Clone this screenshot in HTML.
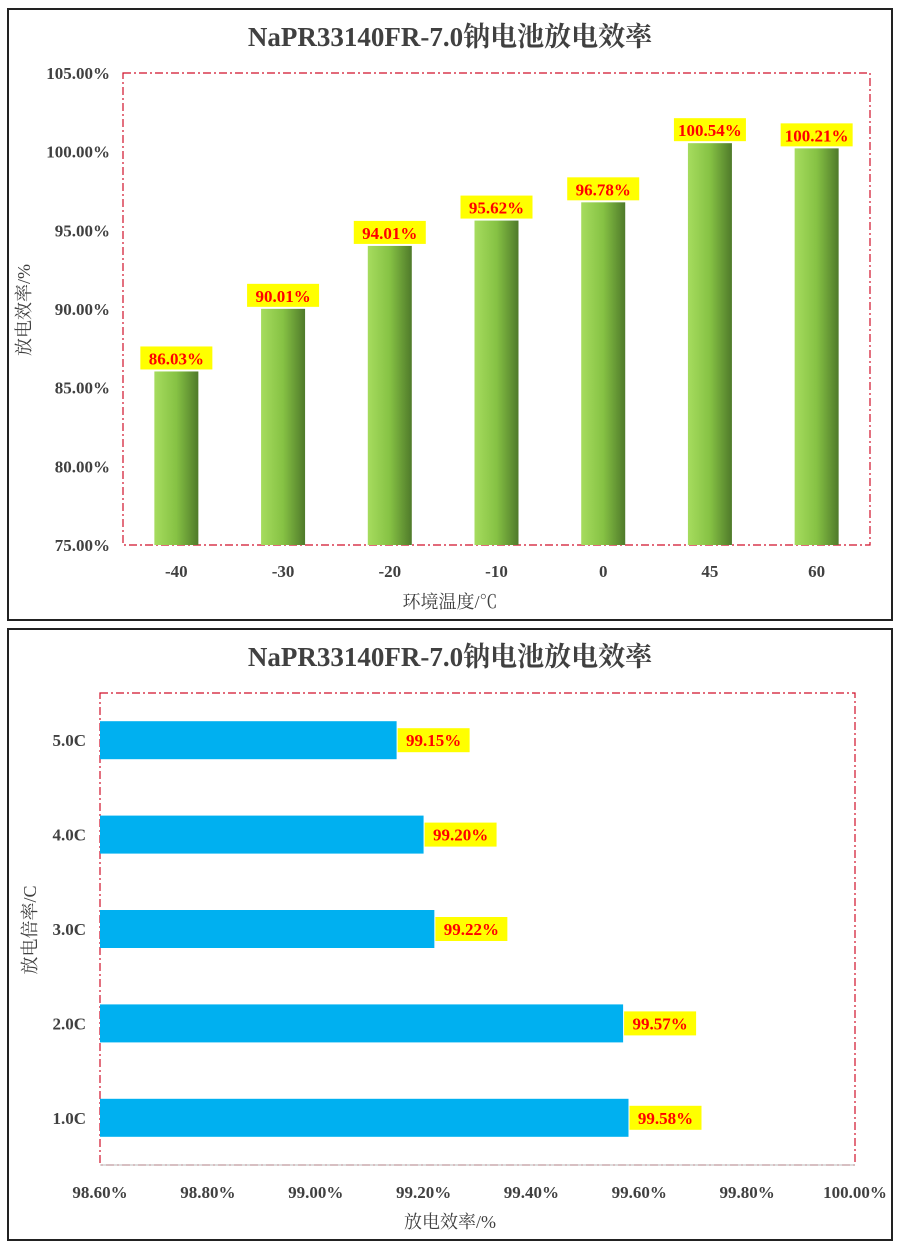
<!DOCTYPE html>
<html><head><meta charset="utf-8"><style>
body{margin:0;background:#fff;}
svg text{font-family:"Liberation Serif","Noto Serif CJK SC",serif;}
</style></head><body>
<svg width="900" height="1251" xmlns="http://www.w3.org/2000/svg">
<defs>
<linearGradient id="g" x1="0" x2="1" y1="0" y2="0"><stop offset="0" stop-color="#a6dc5e"/><stop offset="0.5" stop-color="#86c244"/><stop offset="1" stop-color="#4f7a2a"/></linearGradient>
</defs>
<rect x="8" y="9" width="884" height="611" fill="#fff" stroke="#222" stroke-width="2"/>
<rect x="8" y="629" width="884" height="611" fill="#fff" stroke="#222" stroke-width="2"/>
<text x="450" y="46" text-anchor="middle" font-size="27" font-weight="bold" fill="#404040">NaPR33140FR-7.0钠电池放电效率</text>
<text x="450" y="666" text-anchor="middle" font-size="27" font-weight="bold" fill="#404040">NaPR33140FR-7.0钠电池放电效率</text>
<rect x="123" y="73" width="747" height="472" fill="none" stroke="#d0102a" stroke-width="1.2" stroke-dasharray="8,3,2,3"/>
<rect x="100" y="693" width="755" height="472" fill="none" stroke="#d0102a" stroke-width="1.2" stroke-dasharray="8,3,2,3"/>
<line x1="100" y1="1165" x2="855" y2="1165" stroke="#bbb"/>
<text transform="translate(30,310) rotate(-90)" text-anchor="middle" font-size="18" fill="#404040">放电效率/%</text>
<text x="450" y="608" text-anchor="middle" font-size="18" fill="#404040">环境温度/℃</text>
<text transform="translate(36,930) rotate(-90)" text-anchor="middle" font-size="18" fill="#404040">放电倍率/C</text>
<text x="450" y="1228" text-anchor="middle" font-size="18" fill="#404040">放电效率/%</text>
<g id="c1"></g><g id="c2"></g>
</svg>
<script>
const cats1=["-40","-30","-20","-10","0","45","60"];
const vals1=[86.03,90.01,94.01,95.62,96.78,100.54,100.21];
const yTicks1=[75,80,85,90,95,100,105];
const cats2=["5.0C","4.0C","3.0C","2.0C","1.0C"];
const vals2=[99.15,99.20,99.22,99.57,99.58];
const xTicks2=[98.6,98.8,99.0,99.2,99.4,99.6,99.8,100.0];
const NS="http://www.w3.org/2000/svg";
function mk(p,t,a,txt){const e=document.createElementNS(NS,t);for(const k in a)e.setAttribute(k,a[k]);if(txt!==undefined)e.textContent=txt;p.appendChild(e);return e;}
const y1=v=>545-(v-75)/30*472;
const x1=i=>123+(i+0.5)*747/cats1.length;
const g1=document.getElementById('c1');
yTicks1.forEach(t=>{const e=mk(g1,'text',{x:110,y:y1(t)+6,'text-anchor':'end','font-size':17,'font-weight':'bold',fill:'#404040'},t.toFixed(2)+'%');

});
cats1.forEach((c,i)=>{const cx=x1(i),v=vals1[i],top=y1(v);
const r=mk(g1,'rect',{x:cx-22,y:top,width:44,height:545-top,fill:'url(#g)'});


const b=mk(g1,'rect',{x:cx-36,y:top-25,width:72,height:23,fill:'#ffff00'});


const l=mk(g1,'text',{x:cx,y:top-7,'text-anchor':'middle','font-size':17,'font-weight':'bold',fill:'#ff0000'},v.toFixed(2)+'%');


const t=mk(g1,'text',{x:cx,y:577,'text-anchor':'middle','font-size':17,'font-weight':'bold',fill:'#404040'},c);

});
const x2=v=>100+(v-98.6)/1.4*755;
const yc=i=>693+(i+0.5)*472/cats2.length;
const g2=document.getElementById('c2');
xTicks2.forEach(t=>{const e=mk(g2,'text',{x:x2(t),y:1198,'text-anchor':'middle','font-size':17,'font-weight':'bold',fill:'#404040'},t.toFixed(2)+'%');

});
cats2.forEach((c,i)=>{const cy=yc(i),v=vals2[i],w=x2(v)-100;
const r=mk(g2,'rect',{x:100,y:cy-19,width:w,height:38,fill:'#00b0f0'});


const b=mk(g2,'rect',{x:100+w+1,y:cy-12,width:72,height:24,fill:'#ffff00'});


const l=mk(g2,'text',{x:100+w+37,y:cy+6,'text-anchor':'middle','font-size':17,'font-weight':'bold',fill:'#ff0000'},v.toFixed(2)+'%');


const t=mk(g2,'text',{x:86,y:cy+6,'text-anchor':'end','font-size':17,'font-weight':'bold',fill:'#404040'},c);

});
</script>
</body></html>
